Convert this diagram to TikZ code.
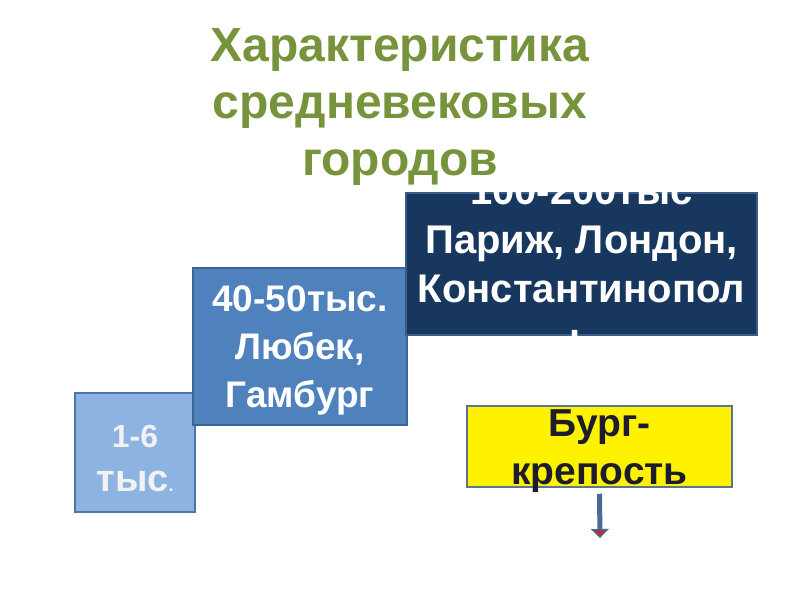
\documentclass[tikz,border=0pt]{standalone}
\usepackage{fontspec}
\setmainfont{Liberation Sans}
\usepackage{xcolor}
\usepackage{tikz}
\usetikzlibrary{positioning,arrows.meta}
\definecolor{titlegreen}{HTML}{77933C}
\definecolor{lightfill}{HTML}{8DB3E2}
\definecolor{lightedge}{HTML}{4A76A8}
\definecolor{midfill}{HTML}{4F81BD}
\definecolor{midedge}{HTML}{3B6494}
\definecolor{darkfill}{HTML}{17375E}
\definecolor{darkedge}{HTML}{385D8A}
\definecolor{burgedge}{HTML}{5A7396}
\definecolor{burgtext}{HTML}{1C1C2C}
\definecolor{arrowblue}{HTML}{4A6A9A}
\definecolor{arrowred}{HTML}{B0303C}
\tikzset{
  heading/.style={font=\fontsize{48}{57}\selectfont\bfseries, text=titlegreen, align=center},
  box/.style={draw, line width=1.5pt, rectangle, inner sep=0pt},
  boxtext/.style={font=\fontsize{37}{48}\selectfont\bfseries, align=center, inner sep=0pt},
  down/.style={arrowblue, line width=5pt, -{Triangle[width=18pt,length=9pt,line width=1.2pt,fill=arrowred]}}
}
\begin{document}
\begin{tikzpicture}[x=1pt,y=-1pt]
    \useasboundingbox (0,0) rectangle (800,600);

    \node[heading] (title) at (400,107) {Характеристика\\средневековых\\городов};

    \node[box, draw=lightedge, fill=lightfill, minimum width=120pt, minimum height=119pt] (small) at (135,452.5) {};
    \node[box, draw=midedge, fill=midfill, minimum width=214pt, minimum height=157pt] (middle) at (300,346.5) {};
    \node[box, draw=darkedge, fill=darkfill, minimum width=351pt, minimum height=142pt] (large) at (581.5,264) {};
    \node[box, draw=burgedge, fill=yellow, minimum width=265pt, minimum height=81pt] (burg) at (599.5,446.5) {};

    \node[boxtext, text=white!95!black, font=\fontsize{32}{44}\selectfont\bfseries] (smalltext) at ([yshift=-6pt]small.center)
        {1-6\\{\fontsize{38}{44}\selectfont тыс}{\fontsize{18}{44}\selectfont .}};
    \node[boxtext, text=white] (middletext) at ([yshift=-4pt]middle.center) {40-50тыс.\\Любек,\\Гамбург};
    \node[boxtext, text=white, font=\fontsize{40}{49}\selectfont\bfseries] (largetext) at ([yshift=0pt]large.center)
        {100-200тыс\\Париж, Лондон,\\Константинопол\\ь};
    \node[boxtext, text=burgtext, font=\fontsize{39}{48}\selectfont\bfseries] (burgtext) at ([yshift=-4.5pt]burg.center) {Бург-\\крепость};

    \coordinate (arrowend) at (600,538);
    \draw[down] ([yshift=-6pt]burg.south) -- (arrowend);
\end{tikzpicture}
\end{document}
